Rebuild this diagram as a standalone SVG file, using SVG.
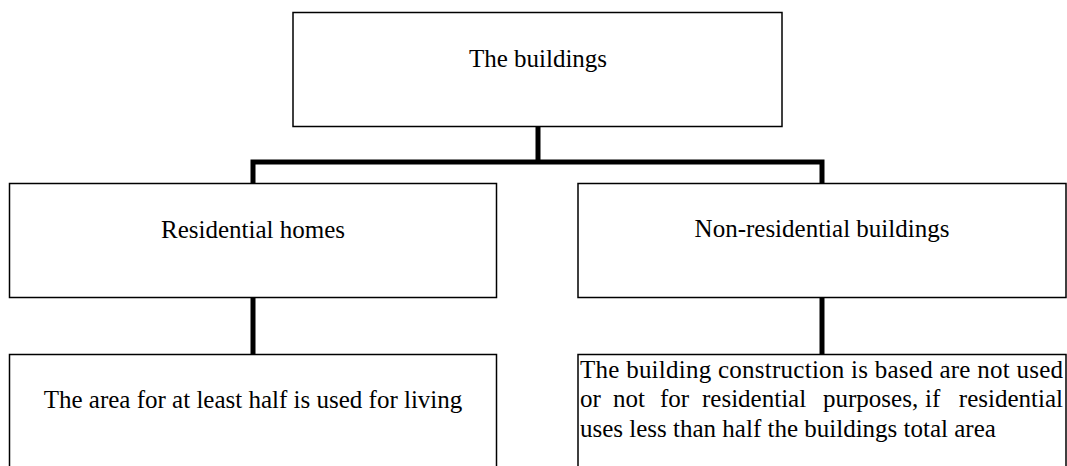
<svg xmlns="http://www.w3.org/2000/svg" width="1067" height="466" viewBox="0 0 1067 466">
<style>
.box{fill:#fff;stroke:#000;stroke-width:1.5}
.t{font-family:"Liberation Serif","Times New Roman",serif;font-size:25px;fill:#000}
.c{text-anchor:middle}
.conn{fill:none;stroke:#000;stroke-width:5}
</style>
<rect width="1067" height="466" fill="#fff"/>
<g id="connectors">
<path class="conn" d="M538 126 V162 M253 183 V162 H822 V183"/>
<path class="conn" d="M253 298 V354"/>
<path class="conn" d="M822 298 V354"/>
</g>
<g id="n-buildings">
<rect class="box" x="293" y="12.5" width="489" height="114"/>
<text class="t c" x="538" y="67">The buildings</text>
</g>
<g id="n-residential">
<rect class="box" x="9.5" y="183.5" width="487" height="114"/>
<text class="t c" x="253" y="238">Residential homes</text>
</g>
<g id="n-nonresidential">
<rect class="box" x="578" y="183.5" width="488" height="114"/>
<text class="t c" x="822" y="237">Non-residential buildings</text>
</g>
<g id="n-res-desc">
<rect class="box" x="9.5" y="354.5" width="487" height="130"/>
<text class="t c" x="253" y="408">The area for at least half is used for living</text>
</g>
<g id="n-nonres-desc">
<rect class="box" x="578" y="354.5" width="488" height="130"/>
<text class="t" x="580" y="378" textLength="483" lengthAdjust="spacing">The building construction is based are not used</text>
<text class="t" y="407"><tspan x="580">or</tspan><tspan x="613">not</tspan><tspan x="660">for</tspan><tspan x="702">residential</tspan><tspan x="823">purposes,</tspan><tspan x="925">if</tspan></text>
<text class="t" x="1063" y="407" text-anchor="end">residential</text>
<text class="t" x="580" y="437">uses less than half the buildings total area</text>
</g>
</svg>
